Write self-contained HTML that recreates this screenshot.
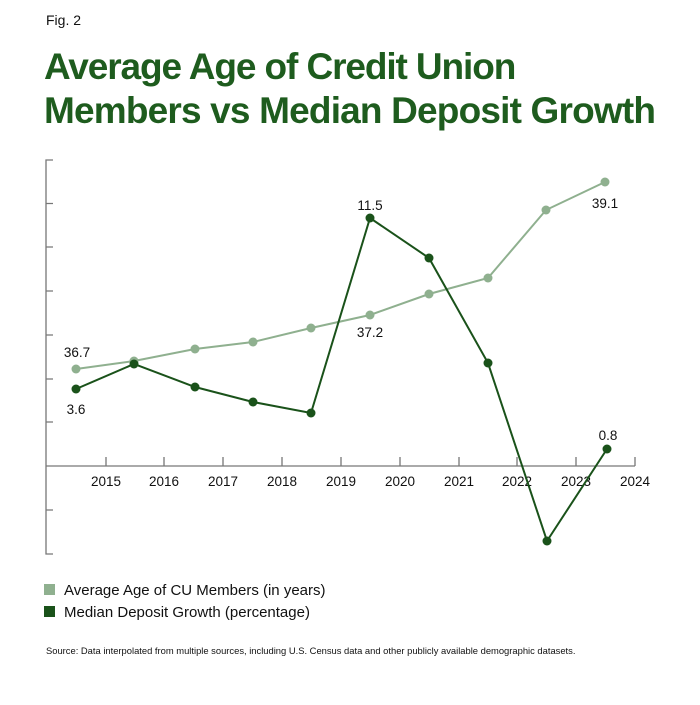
<!DOCTYPE html>
<html><head><style>
body{margin:0;background:#fff;width:700px;height:700px;overflow:hidden;font-family:"Liberation Sans",sans-serif}
</style></head><body>
<svg width="700" height="700" xmlns="http://www.w3.org/2000/svg" font-family="Liberation Sans, sans-serif">
<text x="46" y="25" font-size="14" fill="#111">Fig. 2</text>
<text x="44" y="79" font-size="37" font-weight="bold" fill="#1e5c1e" letter-spacing="-1.1">Average Age of Credit Union</text>
<text x="44" y="123" font-size="37" font-weight="bold" fill="#1e5c1e" letter-spacing="-0.82">Members vs Median Deposit Growth</text>
<g stroke="#777" stroke-width="1.3" fill="none">
<path d="M53 160H46V554H53"/>
<path d="M46 203.5h7M46 247h7M46 291h7M46 335h7M46 379h7M46 422h7M46 510h7"/>
<path d="M46 466H635"/>
<path d="M106 466v-9M164 466v-9M223 466v-9M282 466v-9M341 466v-9M400 466v-9M459 466v-9M517 466v-9M576 466v-9M635 466v-9"/>
</g>
<g font-size="13.5" fill="#111" text-anchor="middle">
<text x="106" y="486">2015</text><text x="164" y="486">2016</text><text x="223" y="486">2017</text><text x="282" y="486">2018</text><text x="341" y="486">2019</text><text x="400" y="486">2020</text><text x="459" y="486">2021</text><text x="517" y="486">2022</text><text x="576" y="486">2023</text><text x="635" y="486">2024</text>
</g>
<polyline fill="none" stroke="#8fb08f" stroke-width="2" points="76,369 134,361 195,349 253,342 311,328 370,315 429,294 488,278 546,210 605,182"/>
<g fill="#8fb08f"><circle cx="76" cy="369" r="4.5"/><circle cx="134" cy="361" r="4.5"/><circle cx="195" cy="349" r="4.5"/><circle cx="253" cy="342" r="4.5"/><circle cx="311" cy="328" r="4.5"/><circle cx="370" cy="315" r="4.5"/><circle cx="429" cy="294" r="4.5"/><circle cx="488" cy="278" r="4.5"/><circle cx="546" cy="210" r="4.5"/><circle cx="605" cy="182" r="4.5"/></g>
<polyline fill="none" stroke="#1a521a" stroke-width="2" points="76,389 134,364 195,387 253,402 311,413 370,218 429,258 488,363 547,541 607,449"/>
<g fill="#1a521a"><circle cx="76" cy="389" r="4.5"/><circle cx="134" cy="364" r="4.5"/><circle cx="195" cy="387" r="4.5"/><circle cx="253" cy="402" r="4.5"/><circle cx="311" cy="413" r="4.5"/><circle cx="370" cy="218" r="4.5"/><circle cx="429" cy="258" r="4.5"/><circle cx="488" cy="363" r="4.5"/><circle cx="547" cy="541" r="4.5"/><circle cx="607" cy="449" r="4.5"/></g>
<g font-size="13.5" fill="#111" text-anchor="middle">
<text x="77" y="357">36.7</text><text x="76" y="414">3.6</text><text x="370" y="210">11.5</text><text x="370" y="337">37.2</text><text x="605" y="208">39.1</text><text x="608" y="440">0.8</text>
</g>
<rect x="44" y="584" width="11" height="11" fill="#8fb08f"/>
<text x="64" y="595" font-size="15" fill="#111">Average Age of CU Members (in years)</text>
<rect x="44" y="606" width="11" height="11" fill="#1a521a"/>
<text x="64" y="617" font-size="15" fill="#111">Median Deposit Growth (percentage)</text>
<text x="46" y="654" font-size="9.4" fill="#111">Source: Data interpolated from multiple sources, including U.S. Census data and other publicly available demographic datasets.</text>
</svg>
</body></html>
